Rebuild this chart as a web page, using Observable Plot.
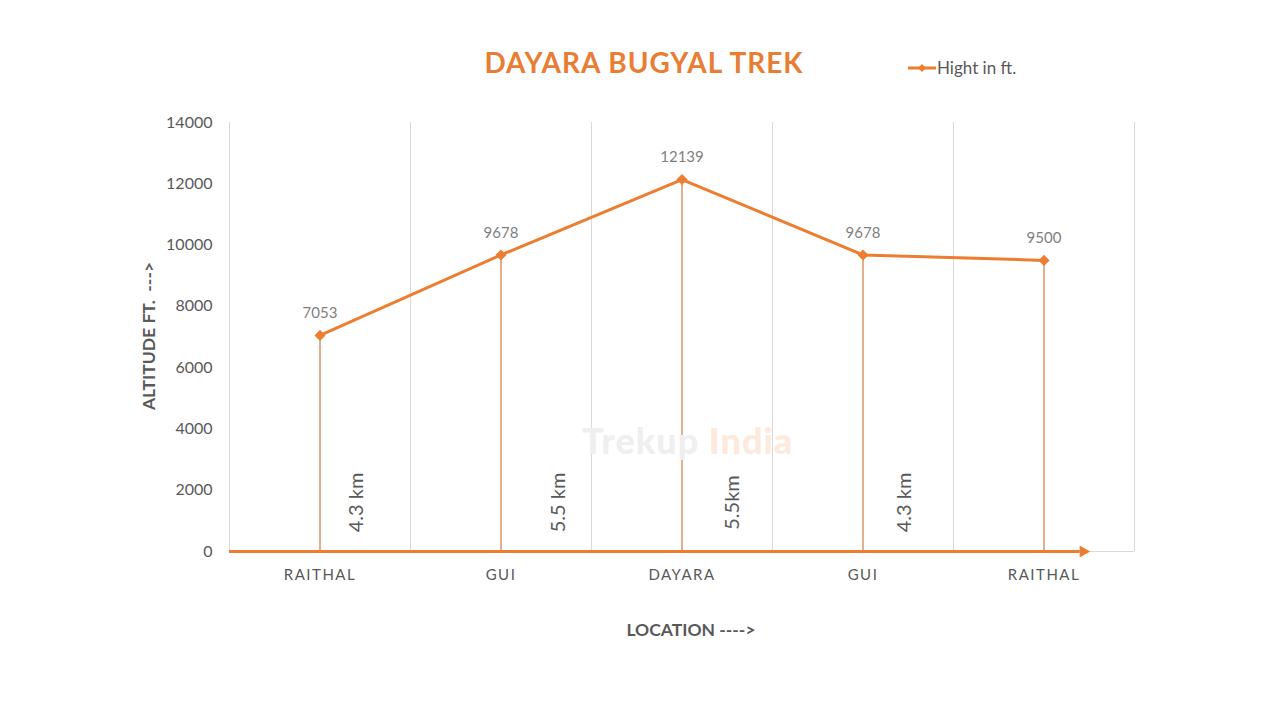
<!DOCTYPE html>
<html>
<head>
<meta charset="utf-8">
<script src="https://cdn.jsdelivr.net/npm/d3@7"></script>
<script src="https://cdn.jsdelivr.net/npm/@observablehq/plot@0.6"></script>
<style>
  html, body { margin: 0; padding: 0; background: #fff; }
  #wrap { position: relative; width: 1280px; height: 720px; font-family: Lato, "Open Sans", sans-serif; }
  #chart { position: absolute; left: 0; top: 0; }
  .title { position: absolute; left: 0; width: 1288px; top: 45px; text-align: center; font-weight: 700; font-size: 28px; color: #E97D33; letter-spacing: 1px; }
  .legend { position: absolute; left: 907px; top: 57px; display: flex; align-items: center; font-size: 17px; color: #595959; }
  .ytitle { position: absolute; left: 148px; top: 336px; transform: translate(-50%, -50%) rotate(-90deg); font-weight: 700; font-size: 17.5px; color: #595959; white-space: pre; }
  .xtitle { position: absolute; left: 691px; top: 619px; transform: translateX(-50%); font-weight: 700; font-size: 17.5px; color: #595959; white-space: pre; }
  .wm { position: absolute; left: 582px; top: 418px; font-weight: 900; font-size: 36px; letter-spacing: 1px; }
</style>
</head>
<body>
<div id="wrap">
  <div id="chart"></div>
  <div class="wm"><span style="color:#efefef">Trekup </span><span style="color:#fdeadd">India</span></div>
  <div class="title">DAYARA BUGYAL TREK</div>
  <div class="legend">
    <svg width="30" height="12"><line x1="1" y1="6" x2="29" y2="6" stroke="#ED7D31" stroke-width="3"/><path d="M15,2 L19,6 L15,10 L11,6 Z" fill="#ED7D31"/></svg>
    <span>Hight in ft.</span>
  </div>
  <div class="ytitle">ALTITUDE FT.  ---&gt;</div>
  <div class="xtitle">LOCATION ----&gt;</div>
</div>
<script>
const locations = ["RAITHAL", "GUI", "DAYARA", "GUI", "RAITHAL"];
const heights = [7053, 9678, 12139, 9678, 9500];
const distanceLabels = ["4.3 km", "5.5 km", "5.5km", "4.3 km"];
const distanceX = [0.2, 1.32, 2.28, 3.23];
const distanceY = 1600;
const yTicks = [0, 2000, 4000, 6000, 8000, 10000, 12000, 14000];

const orange = "#ED7D31";
const pts = heights.map((h, i) => ({i, h, name: locations[i]}));
const gridX = d3.range(locations.length + 1).map(k => k - 0.5);
const dist = distanceLabels.map((t, k) => ({t, x: distanceX[k], y: distanceY}));
const arrowEnd = 4.2;

const chart = Plot.plot({
  width: 1280,
  height: 720,
  marginLeft: 229,
  marginRight: 146,
  marginTop: 122,
  marginBottom: 169,
  style: {fontFamily: "Lato, 'Open Sans', sans-serif", background: "transparent"},
  x: {domain: [-0.5, locations.length - 0.5], ticks: d3.range(locations.length), tickFormat: i => locations[i], tickSize: 0, tickPadding: 18, label: null},
  y: {domain: [0, 14000], ticks: yTicks, tickFormat: d => String(d), tickSize: 0, tickPadding: 17, label: null},
  marks: [
    Plot.ruleX(gridX, {stroke: "#d9d9d9", strokeWidth: 1}),
    Plot.ruleY([0], {x1: -0.5, x2: locations.length - 0.5, stroke: "#d9d9d9"}),
    Plot.ruleX(pts, {x: "i", y1: 0, y2: "h", stroke: "#C65E1A", strokeWidth: 1}),
    Plot.ruleY([0], {x1: -0.5, x2: arrowEnd, stroke: orange, strokeWidth: 3}),
    Plot.dot([{x: arrowEnd, y: 0}], {x: "x", y: "y", symbol: "triangle", r: 4.5, fill: orange, rotate: 90, dx: 3}),
    Plot.line(pts, {x: "i", y: "h", stroke: orange, strokeWidth: 3}),
    Plot.dot(pts, {x: "i", y: "h", symbol: "diamond2", r: 5, fill: orange}),
    Plot.text(pts, {x: "i", y: "h", text: d => String(d.h), dy: -22, fill: "#7f7f7f", fontSize: 15}),
    Plot.text(dist, {x: "x", y: "y", text: "t", rotate: -90, fill: "#595959", fontSize: 20, letterSpacing: "1.5px"})
  ]
});
chart.querySelectorAll("[aria-label='x-axis tick label'] text, [aria-label='y-axis tick label'] text").forEach(t => {
  t.style.fill = "#595959";
});
chart.querySelectorAll("[aria-label='x-axis tick label']").forEach(g => { g.setAttribute("font-size", "15"); g.style.letterSpacing = "1.5px"; });
chart.querySelectorAll("[aria-label='y-axis tick label']").forEach(g => { g.setAttribute("font-size", "16"); });
document.getElementById("chart").appendChild(chart);
</script>
</body>
</html>
